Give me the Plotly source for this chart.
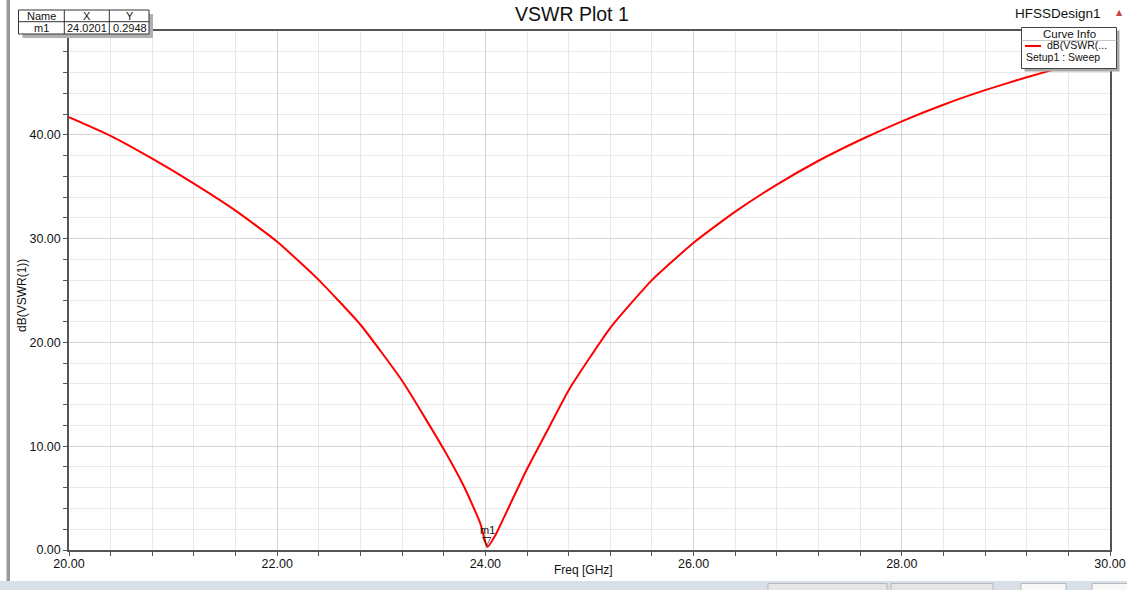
import plotly.graph_objects as go

# ---- data ----
freq_ghz = [20.0, 20.4, 20.8, 21.2, 21.6, 22.0, 22.4, 22.8, 23.2, 23.6, 23.8, 23.95,
            24.0201, 24.1, 24.2, 24.4, 24.6, 24.8, 25.2, 25.6, 26.0, 26.4, 26.8,
            27.2, 27.6, 28.0, 28.4, 28.8, 29.2, 29.6, 30.0]
vswr_db = [41.7, 39.9, 37.7, 35.3, 32.7, 29.7, 26.0, 21.7, 16.3, 9.7, 6.0, 2.6,
           0.2948, 1.5, 3.6, 7.8, 11.6, 15.4, 21.4, 26.0, 29.6, 32.6, 35.2,
           37.5, 39.5, 41.3, 42.9, 44.3, 45.55, 46.65, 47.6]
marker_name = "m1"
marker_x = [24.0201]
marker_y = [0.2948]
x_tick_vals = [20, 22, 24, 26, 28, 30]
x_tick_text = ["20.00", "22.00", "24.00", "26.00", "28.00", "30.00"]
y_tick_vals = [0, 10, 20, 30, 40]
y_tick_text = ["0.00", "10.00", "20.00", "30.00", "40.00"]

W, H = 1127, 590
L, R, T, B = 69, 17, 31, 40
PW, PH = W - L - R, H - T - B
FONT = "Liberation Sans, Arial, sans-serif"


def px(x):
    return (x - L) / PW


def py(y):
    return (H - B - y) / PH


fig = go.Figure()
fig.add_trace(go.Scatter(x=freq_ghz, y=vswr_db, mode="lines",
                         line=dict(color="#ff0000", width=2, shape="spline", smoothing=0.5),
                         hoverinfo="skip", showlegend=False))

shapes = []
anns = []

# left gray window edge and bottom toolbar band
shapes.append(dict(type="rect", xref="paper", yref="paper", x0=px(6.5), x1=px(10), y0=py(0), y1=py(581),
                   fillcolor="#9a9a9a", line=dict(width=0), layer="above"))
shapes.append(dict(type="rect", xref="paper", yref="paper", x0=px(0), x1=px(W), y0=py(581), y1=py(H),
                   fillcolor="#d8dfe6", line=dict(width=0), layer="above"))
for (a, b, fc) in [(768, 887, "#e6e6e6"), (891, 993, "#e6e6e6"), (1021, 1066, "#f8f8f8"), (1092, 1130, "#f8f8f8")]:
    shapes.append(dict(type="rect", xref="paper", yref="paper", x0=px(a), x1=px(b), y0=py(583.5), y1=py(592),
                       fillcolor=fc, line=dict(width=1, color="#b8b8b8"), layer="above"))

# marker table (top-left)
tx0, tx1, ty0, ty1 = 18.5, 149, 10, 34
shapes.append(dict(type="rect", xref="paper", yref="paper", x0=px(tx0 + 4), x1=px(tx1 + 4), y0=py(ty0 + 4), y1=py(ty1 + 4),
                   fillcolor="#b0b0b0", line=dict(width=0), layer="above"))
shapes.append(dict(type="rect", xref="paper", yref="paper", x0=px(tx0), x1=px(tx1), y0=py(ty0), y1=py(ty1),
                   fillcolor="#ffffff", line=dict(width=1, color="#333333"), layer="above"))
for xv in [64.3, 109.3]:
    shapes.append(dict(type="line", xref="paper", yref="paper", x0=px(xv), x1=px(xv), y0=py(ty0), y1=py(ty1),
                       line=dict(width=1, color="#333333"), layer="above"))
shapes.append(dict(type="line", xref="paper", yref="paper", x0=px(tx0), x1=px(tx1), y0=py(21.7), y1=py(21.7),
                   line=dict(width=1, color="#333333"), layer="above"))
for (cx, cy, t) in [(41, 15.5, "Name"), (87, 15.5, "X"), (129.5, 15.5, "Y"),
                    (41, 28, marker_name), (87, 28, f"{marker_x[0]:.4f}"), (129.5, 28, f"{marker_y[0]:.4f}")]:
    anns.append(dict(x=px(cx), y=py(cy), xref="paper", yref="paper", text=t, showarrow=False,
                     xanchor="center", yanchor="middle", font=dict(family=FONT, size=11, color="#111111")))

# curve info box (top-right)
bx0, bx1, by0, by1 = 1021.5, 1116.5, 27.5, 68.5
shapes.append(dict(type="rect", xref="paper", yref="paper", x0=px(bx0 + 3), x1=px(bx1 + 3), y0=py(by0 + 3), y1=py(by1 + 3),
                   fillcolor="#a8a8a8", line=dict(width=0), layer="above"))
shapes.append(dict(type="rect", xref="paper", yref="paper", x0=px(bx0), x1=px(bx1), y0=py(by0), y1=py(by1),
                   fillcolor="#ffffff", line=dict(width=1, color="#444444"), layer="above"))
shapes.append(dict(type="line", xref="paper", yref="paper", x0=px(bx0), x1=px(bx1), y0=py(40.5), y1=py(40.5),
                   line=dict(width=1, color="#c8c8c8"), layer="above"))
shapes.append(dict(type="line", xref="paper", yref="paper", x0=px(1025), x1=px(1041), y0=py(46), y1=py(46),
                   line=dict(width=2, color="#ff0000"), layer="above"))
anns.append(dict(x=px(1069), y=py(33.5), xref="paper", yref="paper", text="Curve Info", showarrow=False,
                 xanchor="center", yanchor="middle", font=dict(family=FONT, size=11.5, color="#111111")))
anns.append(dict(x=px(1046), y=py(45), xref="paper", yref="paper", text="dB(VSWR(...", showarrow=False,
                 xanchor="left", yanchor="middle", borderpad=0,
                 font=dict(family=FONT, size=10.5, color="#111111")))
anns.append(dict(x=px(1025), y=py(57), xref="paper", yref="paper", text="Setup1 : Sweep", showarrow=False,
                 xanchor="left", yanchor="middle", borderpad=0,
                 font=dict(family=FONT, size=10.5, color="#111111")))

# header texts
anns.append(dict(x=px(572), y=py(14), xref="paper", yref="paper", text="VSWR Plot 1", showarrow=False,
                 xanchor="center", yanchor="middle", font=dict(family=FONT, size=19.5, color="#111111")))
anns.append(dict(x=px(1103), y=py(14), xref="paper", yref="paper", text="HFSSDesign1", showarrow=False,
                 xanchor="right", yanchor="middle", font=dict(family=FONT, size=13.5, color="#111111")))
anns.append(dict(x=px(1119), y=py(13), xref="paper", yref="paper", text="▲", showarrow=False,
                 xanchor="center", yanchor="middle", font=dict(family="DejaVu Sans", size=8, color="#c04848")))

# axis titles
anns.append(dict(x=px(583), y=py(569.5), xref="paper", yref="paper", text="Freq [GHz]", showarrow=False,
                 xanchor="center", yanchor="middle", font=dict(family=FONT, size=12, color="#111111")))
anns.append(dict(x=px(22), y=py(296), xref="paper", yref="paper", text="dB(VSWR(1))", showarrow=False,
                 textangle=-90, xanchor="center", yanchor="middle", font=dict(family=FONT, size=12, color="#111111")))

# marker triangle and label
anns.append(dict(x=marker_x[0], y=marker_y[0], xref="x", yref="y", text="▽", showarrow=False,
                 yshift=6, xanchor="center", yanchor="middle",
                 font=dict(family="DejaVu Sans", size=12, color="#000000")))
anns.append(dict(x=marker_x[0], y=marker_y[0], xref="x", yref="y", text=marker_name, showarrow=False,
                 yshift=17, xanchor="center", yanchor="middle", font=dict(family=FONT, size=11, color="#111111")))

fig.update_layout(
    width=W, height=H, margin=dict(l=L, r=R, t=T, b=B, autoexpand=False),
    paper_bgcolor="#ffffff", plot_bgcolor="#ffffff",
    shapes=shapes, annotations=anns, showlegend=False,
    xaxis=dict(range=[20, 30], tickvals=x_tick_vals, ticktext=x_tick_text,
               showgrid=True, gridcolor="#d4d4d4", gridwidth=1,
               ticks="outside", ticklen=4, tickcolor="#555555", ticklabelstandoff=-3,
               minor=dict(dtick=0.4, tick0=20, showgrid=True, gridcolor="#e8e8e8", ticks="outside", ticklen=4, tickcolor="#555555"),
               showline=True, linecolor="#555555", linewidth=1.5, mirror=True, zeroline=False,
               tickfont=dict(family=FONT, size=12.5, color="#111111"), fixedrange=True),
    yaxis=dict(range=[0, 50], tickvals=y_tick_vals, ticktext=y_tick_text,
               showgrid=True, gridcolor="#d4d4d4", gridwidth=1,
               ticks="outside", ticklen=4, tickcolor="#555555",
               minor=dict(dtick=2, tick0=0, showgrid=True, gridcolor="#e8e8e8", ticks="outside", ticklen=4, tickcolor="#555555"),
               showline=True, linecolor="#555555", linewidth=1.5, mirror=True, zeroline=False,
               tickfont=dict(family=FONT, size=12.5, color="#111111"), fixedrange=True),
)

fig.write_html("out.html")
